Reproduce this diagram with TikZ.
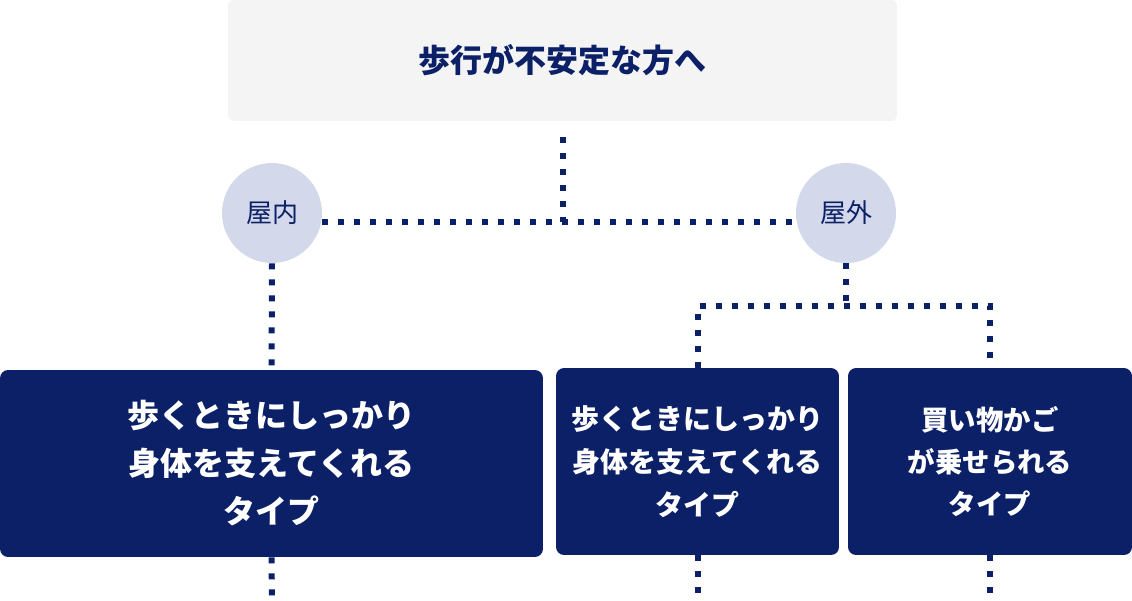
\documentclass[tikz,border=0pt]{standalone}
\usepackage{fontspec}
\setmainfont{Noto Sans CJK JP}
\newfontfamily\circfont{Noto Sans CJK JP}
\definecolor{navy}{HTML}{0B2066}
\definecolor{lavender}{HTML}{D3D8EA}
\definecolor{palegray}{HTML}{F4F4F4}
\tikzset{
  dotline/.style={navy, line width=0.12cm, dash pattern=on 0.12cm off 0.2cm},
  topbox/.style={fill=palegray, rounded corners=0.12cm, minimum width=13.38cm, minimum height=2.42cm, inner sep=0pt,
    text=navy, font=\bfseries\fontsize{18.2}{22}\selectfont},
  placecirc/.style={circle, fill=lavender, minimum size=2cm, inner sep=0pt, text=navy,
    font=\circfont\fontsize{14.8}{17}\selectfont},
  typebox/.style={fill=navy, rounded corners=0.16cm, minimum height=3.74cm, inner sep=0pt,
    text=white, align=center},
}
\begin{document}
\begin{tikzpicture}[x=0.02cm, y=-0.02cm]
  \useasboundingbox (0,0) rectangle (1132,600);
  % top box and the two places
  \node[topbox] (walk) at (562.5,60.5) {歩行が不安定な方へ};
  \node[placecirc] (indoor) at (272,213) {屋内};
  \node[placecirc] (outdoor) at (846,213) {屋外};
  % type boxes
  \node[typebox, minimum width=10.86cm, font=\bfseries\fontsize{18.2}{27.3}\selectfont] (typeA) at (271.5,463.5)
    {歩くときにしっかり\\身体を支えてくれる\\タイプ};
  \node[typebox, minimum width=5.66cm, font=\bfseries\fontsize{15.9}{24.5}\selectfont] (typeB) at (697.5,461.5)
    {歩くときにしっかり\\身体を支えてくれる\\タイプ};
  \node[typebox, minimum width=5.68cm, font=\bfseries\fontsize{15.6}{24}\selectfont] (typeC) at (990,461.5)
    {買い物かご\\が乗せられる\\タイプ};
  % joints
  \coordinate (stemtop) at (563,137);
  \coordinate (mid) at (563,222);
  \coordinate (fork) at (846,306);
  \coordinate (forkL) at (698,306);
  \coordinate (forkR) at (990,306);
  \coordinate (endA) at (272,600);
  \coordinate (endB) at (698,600);
  \coordinate (endC) at (990,600);
  % dotted connectors
  \draw[dotline] (stemtop) -- (mid);
  \draw[dotline] (indoor.east |- mid) -- (outdoor.west |- mid);
  \draw[dotline] (indoor.south) -- (typeA.north);
  \draw[dotline] (outdoor.south) -- (fork);
  \draw[dotline] (typeB.north -| forkL) -- (forkL) -- (forkR) -- (typeC.north -| forkR);
  \draw[dotline] (typeA.south) -- (endA);
  \draw[dotline] (typeB.south -| endB) -- (endB);
  \draw[dotline] (typeC.south) -- (endC);
\end{tikzpicture}
\end{document}
